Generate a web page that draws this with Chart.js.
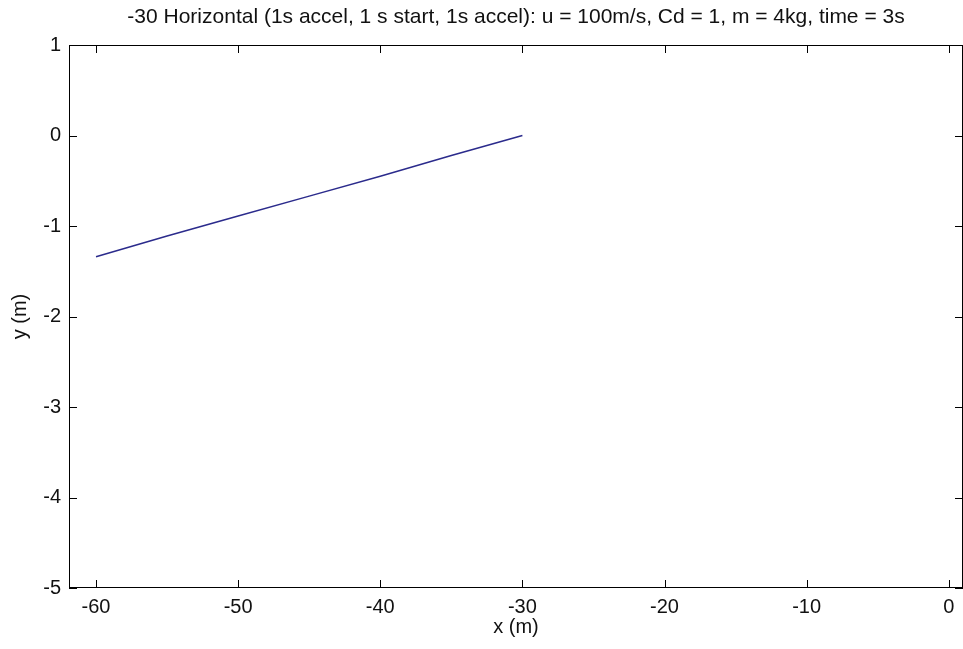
<!DOCTYPE html>
<html lang="en">
<head>
    <meta charset="UTF-8">
    <title>-30 Horizontal trajectory</title>
    <script src="https://cdn.jsdelivr.net/npm/chart.js"></script>
    <style>
        body {
            margin: 0;
            background: #fff;
        }
        #wrap {
            width: 963px;
            height: 649px;
        }
    </style>
</head>
<body>
    <div id="wrap"><canvas id="myChart"></canvas></div>

    <script>
        // path
        const xPos = [-60, -55, -50, -45, -40, -35, -30];
        const yPos = [-1.34, -1.11, -0.89, -0.67, -0.45, -0.22, 0];

        const xTicks = [-60, -50, -40, -30, -20, -10, 0];
        const yTicks = [-5, -4, -3, -2, -1, 0, 1];

        const titleText = '-30 Horizontal (1s accel, 1 s start, 1s accel): u = 100m/s, Cd = 1, m = 4kg, time = 3s';

        const fontFamily = 'Arial, "Liberation Sans", sans-serif';

        // MATLAB style box with ticks pointing inwards
        const boxTicks = {
            id: 'boxTicks',
            afterDraw(chart) {
                const c = chart.ctx;
                const area = chart.chartArea;
                const xs = chart.scales.x;
                const ys = chart.scales.y;
                const len = 8;
                c.save();
                c.strokeStyle = '#000';
                c.lineWidth = 1;
                c.beginPath();
                xs.ticks.forEach(t => {
                    const px = Math.round(xs.getPixelForValue(t.value)) + 0.5;
                    c.moveTo(px, area.bottom);
                    c.lineTo(px, area.bottom - len);
                    c.moveTo(px, area.top);
                    c.lineTo(px, area.top + len);
                });
                ys.ticks.forEach(t => {
                    const py = Math.round(ys.getPixelForValue(t.value)) + 0.5;
                    c.moveTo(area.left, py);
                    c.lineTo(area.left + len, py);
                    c.moveTo(area.right, py);
                    c.lineTo(area.right - len, py);
                });
                c.stroke();
                c.strokeRect(area.left + 0.5, area.top + 0.5, area.right - area.left - 1, area.bottom - area.top - 1);
                c.restore();
            }
        };

        const ctx = document.getElementById('myChart').getContext('2d');
        new Chart(ctx, {
            type: 'line',
            data: {
                datasets: [{
                    data: xPos.map((x, i) => ({ x: x, y: yPos[i] })),
                    borderColor: '#2b2b8c',
                    borderWidth: 1.5,
                    pointRadius: 0,
                    tension: 0,
                    fill: false
                }]
            },
            options: {
                responsive: true,
                maintainAspectRatio: false,
                animation: false,
                layout: { padding: 0 },
                plugins: {
                    legend: { display: false },
                    tooltip: { enabled: false }
                },
                scales: {
                    x: {
                        type: 'linear',
                        min: -61.9,
                        max: 1,
                        afterBuildTicks: scale => {
                            scale.ticks = xTicks.map(v => ({ value: v }));
                        },
                        afterFit: scale => { scale.height = 61; },
                        grid: { display: false, drawTicks: false },
                        border: { display: false },
                        ticks: {
                            color: '#111',
                            padding: 7,
                            maxRotation: 0,
                            autoSkip: false,
                            font: { family: fontFamily, size: 20 }
                        },
                        title: {
                            display: true,
                            text: 'x (m)',
                            color: '#111',
                            font: { family: fontFamily, size: 20 },
                            padding: { top: 0, bottom: 10 }
                        }
                    },
                    // top axis only carries the title, so it centres over the plot box
                    xTop: {
                        type: 'linear',
                        position: 'top',
                        min: -61.9,
                        max: 1,
                        afterFit: scale => { scale.height = 45; },
                        grid: { display: false, drawTicks: false },
                        border: { display: false },
                        ticks: { display: false },
                        title: {
                            display: true,
                            text: titleText,
                            color: '#111',
                            font: { family: fontFamily, size: 21 },
                            padding: { top: 5, bottom: 0 }
                        }
                    },
                    y: {
                        type: 'linear',
                        min: -5,
                        max: 1,
                        afterBuildTicks: scale => {
                            scale.ticks = yTicks.map(v => ({ value: v }));
                        },
                        afterFit: scale => { scale.width = 69; },
                        grid: { display: false, drawTicks: false },
                        border: { display: false },
                        ticks: {
                            color: '#111',
                            padding: 8,
                            autoSkip: false,
                            font: { family: fontFamily, size: 20 }
                        },
                        title: {
                            display: true,
                            text: 'y (m)',
                            color: '#111',
                            font: { family: fontFamily, size: 20 },
                            padding: { top: 8, bottom: 0 }
                        }
                    }
                }
            },
            plugins: [boxTicks]
        });
    </script>
</body>
</html>
